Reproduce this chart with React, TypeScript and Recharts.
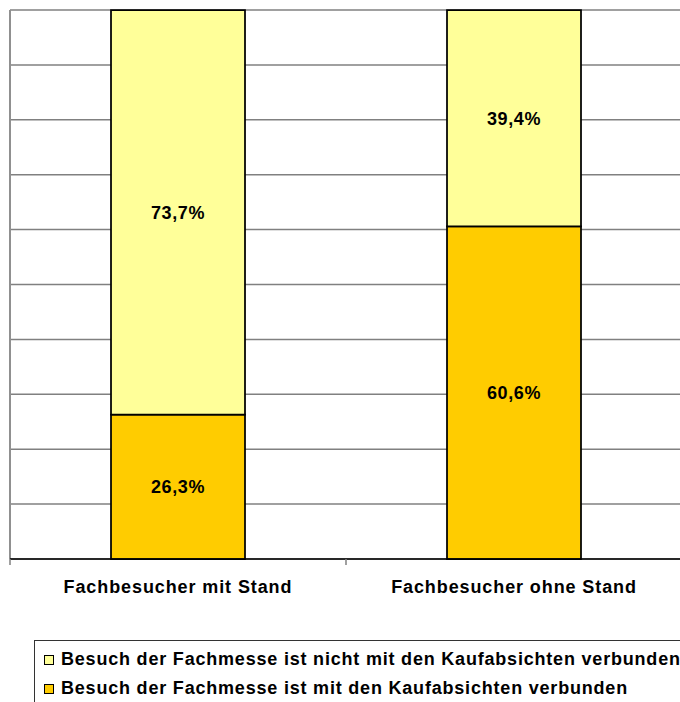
import React from 'react';
import { BarChart, Bar, XAxis, YAxis, CartesianGrid, LabelList } from 'recharts';

const categories = ['Fachbesucher mit Stand', 'Fachbesucher ohne Stand'];
const mitKaufabsicht = [26.3, 60.6];
const ohneKaufabsicht = [73.7, 39.4];
const yTicks = [0, 10, 20, 30, 40, 50, 60, 70, 80, 90, 100];

const legendItems = [
  { label: 'Besuch der Fachmesse ist nicht mit den Kaufabsichten verbunden', color: '#FFFF99' },
  { label: 'Besuch der Fachmesse ist mit den Kaufabsichten verbunden', color: '#FFCC00' },
];

const data = categories.map((name, i) => ({
  name,
  mit: mitKaufabsicht[i],
  ohne: ohneKaufabsicht[i],
}));

const FONT = '"Liberation Sans", Arial, sans-serif';

const formatPct = (v: any) => Number(v).toFixed(1).replace('.', ',') + '%';

const EmptyTick = () => <g />;

// label plus tick marks on the band edges (Excel style)
const CategoryTick = ({ x, y, payload, index, visibleTicksCount }: any) => {
  const half = payload.offset || 0;
  const last = index === visibleTicksCount - 1;
  return (
    <g>
      <line x1={x - half} x2={x - half} y1={y} y2={y + 6} stroke="#808080" strokeWidth={1.5} />
      {last && (
        <line x1={x + half} x2={x + half} y1={y} y2={y + 6} stroke="#808080" strokeWidth={1.5} />
      )}
      <text
        x={x}
        y={y}
        dy={34}
        textAnchor="middle"
        fontFamily={FONT}
        fontWeight="bold"
        fontSize={18}
        letterSpacing={0.9}
        fill="#000"
      >
        {payload.value}
      </text>
    </g>
  );
};

export default function App() {
  return (
    <div
      style={{
        position: 'absolute',
        left: 0,
        top: 0,
        width: 680,
        height: 702,
        overflow: 'hidden',
        background: '#fff',
        fontFamily: FONT,
      }}
    >
      <BarChart
        width={720}
        height={702}
        data={data}
        margin={{ top: 10, right: 38, left: 9, bottom: 103 }}
      >
        <CartesianGrid vertical={false} stroke="#808080" strokeWidth={1.5} />
        <YAxis
          type="number"
          domain={[0, 100]}
          ticks={yTicks}
          interval={0}
          width={1}
          tick={<EmptyTick />}
          tickLine={false}
          axisLine={{ stroke: '#909090', strokeWidth: 2 }}
        />
        <XAxis
          dataKey="name"
          height={40}
          axisLine={{ stroke: '#000', strokeWidth: 1.5 }}
          tickLine={false}
          tickSize={0}
          tickMargin={0}
          tick={<CategoryTick />}
          interval={0}
        />
        <Bar
          dataKey="mit"
          stackId="a"
          fill="#FFCC00"
          stroke="#000"
          strokeWidth={1.75}
          barSize={134}
          isAnimationActive={false}
        >
          <LabelList
            dataKey="mit"
            position="center"
            formatter={formatPct}
            fill="#000"
            fontFamily={FONT}
            fontWeight="bold"
            fontSize={18}
            letterSpacing={0.6}
          />
        </Bar>
        <Bar
          dataKey="ohne"
          stackId="a"
          fill="#FFFF99"
          stroke="#000"
          strokeWidth={1.75}
          barSize={134}
          isAnimationActive={false}
        >
          <LabelList
            dataKey="ohne"
            position="center"
            formatter={formatPct}
            fill="#000"
            fontFamily={FONT}
            fontWeight="bold"
            fontSize={18}
            letterSpacing={0.6}
          />
        </Bar>
      </BarChart>
      <div
        style={{
          position: 'absolute',
          left: 34,
          top: 640,
          width: 700,
          height: 80,
          border: '1px solid #333',
          boxSizing: 'border-box',
          paddingTop: 4,
          paddingLeft: 9,
        }}
      >
        {legendItems.map((item) => (
          <div
            key={item.label}
            style={{
              display: 'flex',
              alignItems: 'center',
              height: 29,
              fontWeight: 'bold',
              fontSize: 18,
              letterSpacing: 0.8,
              color: '#000',
              whiteSpace: 'nowrap',
            }}
          >
            <span
              style={{
                display: 'inline-block',
                width: 8,
                height: 8,
                border: '1px solid #000',
                background: item.color,
                marginRight: 7,
              }}
            />
            {item.label}
          </div>
        ))}
      </div>
    </div>
  );
}
